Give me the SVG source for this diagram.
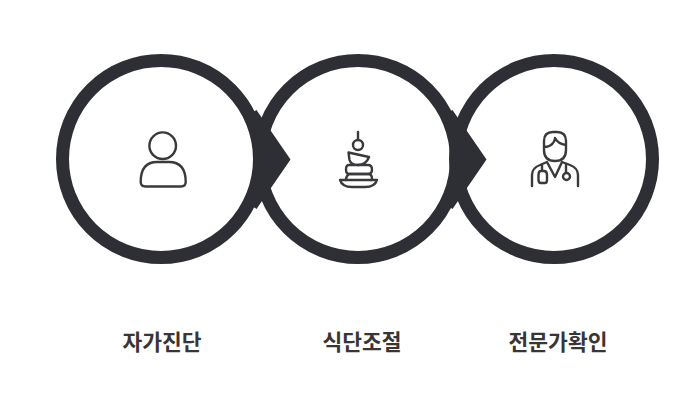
<svg xmlns="http://www.w3.org/2000/svg" width="700" height="402" viewBox="0 0 700 402">
<style>
.ring{fill:none;stroke:#2e2f34;stroke-width:13}
.arrow{fill:#2e2f34}
.ic{fill:none;stroke:#3a3a3c;stroke-width:2.400;stroke-linecap:round;stroke-linejoin:round}
.lb{font-family:"Noto Sans CJK KR","Noto Sans",sans-serif;font-size:21.500px;font-weight:700;fill:#3a3434;text-anchor:middle}
</style>
<rect width="700" height="402" fill="#fff"/>
<g id="connectors">
<path class="arrow" d="M256.500 110L290.500 159.500L256.500 209L248 203Q271 159 248 115Z"/>
<path class="arrow" d="M452.500 110L486.500 159.500L452.500 209L444 203Q467 159 444 115Z"/>
</g>
<g id="node-1">
<circle class="ring" cx="161" cy="159" r="98.500"/>
<circle class="ic" cx="162.700" cy="145.700" r="13.300"/>
<path class="ic" d="M145.500 186.500H181Q185.700 186.500 185.700 182Q185.700 162 169 162H157Q140.700 162 140.700 182Q140.700 186.500 145.500 186.500Z"/>
<text class="lb" x="162" y="350">자가진단</text>
</g>
<g id="node-2">
<circle class="ring" cx="358" cy="159" r="98.500"/>
<path class="ic" d="M358 132V140"/>
<circle class="ic" cx="358" cy="145" r="5"/>
<path class="ic" d="M348.500 152.500L369 157Q366 165 358 165Q351 165 349.500 160Z"/>
<path class="ic" d="M349 165H368Q372 165 372 169.500Q372 174 368 174H349Q346 174 346 169.500Q346 165 349 165Z"/>
<path class="ic" d="M349 174H368Q372 174 372 178.500Q372 180 371 180M346 180Q346 176 349 174"/>
<path class="ic" d="M340 180H377Q375 187 365 187H352Q342 187 340 180Z"/>
<text class="lb" x="362" y="350">식단조절</text>
</g>
<g id="node-3">
<circle class="ring" cx="554" cy="159" r="98.500"/>
<path class="ic" d="M544 148V141Q544 132 553 132H557Q566 132 566 141V150Q566 161 555 161Q544 161 544 150V147Q550 147 553 143Q555 141 555 138Q558 144 566 145"/>
<path class="ic" d="M532 186V175Q532 168 540 165L547 162L555 177L562 162L570 165Q578 168 578 175V186"/>
<path class="ic" d="M542 165V171M538.500 175Q538.500 171 541 171H544Q547 171 547 175V180Q547 183 545 183H541Q538.500 183 538.500 180Z"/>
<path class="ic" d="M566 164V172.500"/>
<circle class="ic" cx="566.500" cy="176.500" r="3.500"/>
<text class="lb" x="558" y="350">전문가확인</text>
</g>
</svg>
